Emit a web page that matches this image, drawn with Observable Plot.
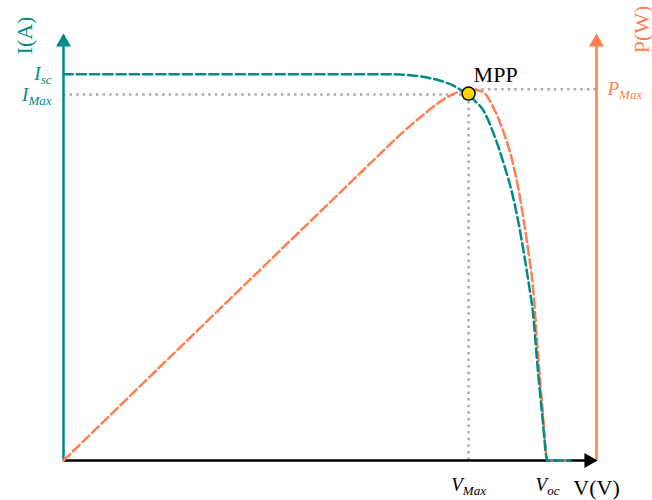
<!DOCTYPE html>
<html><head><meta charset="utf-8">
<script src="https://cdn.jsdelivr.net/npm/d3@7"></script>
<script src="https://cdn.jsdelivr.net/npm/@observablehq/plot@0.6"></script>
<style>body{margin:0;background:#fff}#chart{position:absolute;left:0;top:0}</style>
</head><body><div id="chart"></div>
<script>
// Normalised I-V and P-V curves
const voltage = [0, 0.257, 0.445, 0.595, 0.632, 0.670, 0.707, 0.732, 0.750, 0.760, 0.773, 0.786, 0.807, 0.826, 0.842, 0.854, 0.864, 0.873, 0.881, 0.889, 0.898, 0.908, 0.951];
const current = [1.00, 1.00, 1.00, 1.00, 0.999, 0.994, 0.983, 0.970, 0.955, 0.947, 0.929, 0.910, 0.846, 0.768, 0.690, 0.613, 0.535, 0.457, 0.380, 0.250, 0.121, 0, 0];
const power   = [0, 0.344, 0.595, 0.795, 0.844, 0.889, 0.929, 0.949, 0.958, 0.961, 0.959, 0.955, 0.912, 0.848, 0.776, 0.699, 0.617, 0.533, 0.447, 0.297, 0.145, 0, 0];
const vMax = 0.760, iMax = 0.947, pMax = 0.961, vOc = 0.908, iSc = 1.0;
const xEnd = 1.0, yEnd = 1.1;
const leftLabels = [{text: "I_sc", y: iSc}, {text: "I_Max", y: iMax}];
const bottomLabels = [{text: "V_Max", x: vMax}, {text: "V_oc", x: vOc}];

const TEAL = "#008b8b", CORAL = "#ff7f50", GREY = "#aaaaaa";
const SERIF = "Liberation Serif, Times New Roman, serif";
const rowsI = voltage.map((v, i) => ({v, y: current[i]}));
const rowsP = voltage.map((v, i) => ({v, y: power[i]}));
const dotted = {stroke: GREY, strokeWidth: 2.5, strokeDasharray: "2.5,4.1"};
const dashed = {strokeWidth: 2.5, strokeDasharray: "9.25,4", curve: "monotone-x"};

const svg = Plot.plot({
  width: 652, height: 500,
  marginLeft: 63, marginRight: 56, marginTop: 35, marginBottom: 40,
  x: {domain: [0, xEnd], axis: null},
  y: {domain: [0, yEnd], axis: null},
  style: {background: "#fff", overflow: "visible", fontFamily: SERIF},
  marks: [
    Plot.ruleY([iMax], {x1: 0, x2: vMax, ...dotted}),
    Plot.ruleX([vMax], {y1: 0, y2: iMax, ...dotted}),
    Plot.ruleY([pMax], {x1: vMax, x2: xEnd, ...dotted}),
    Plot.ruleX([0], {y1: 0, y2: yEnd, stroke: TEAL, strokeWidth: 2.5}),
    Plot.ruleX([xEnd], {y1: 0, y2: yEnd, stroke: CORAL, strokeWidth: 2.5}),
    Plot.ruleY([0], {x1: 0, x2: xEnd, stroke: "black", strokeWidth: 2.5}),
    Plot.dot([0], {x: 0, y: yEnd, symbol: "triangle", r: 5.6, fill: TEAL, dy: 6.7}),
    Plot.dot([0], {x: xEnd, y: yEnd, symbol: "triangle", r: 5.6, fill: CORAL, dy: 6.7}),
    Plot.dot([0], {x: xEnd, y: 0, symbol: "triangle", r: 5.6, fill: "black", rotate: 90, dx: -7.7}),
    Plot.line(rowsP, {x: "v", y: "y", stroke: CORAL, ...dashed}),
    Plot.line(rowsI, {x: "v", y: "y", stroke: TEAL, ...dashed}),
    Plot.dot([0], {x: vMax, y: iMax, r: 6.5, fill: "#ffd700", stroke: "black", strokeWidth: 1.5, dy: -1}),
    Plot.text(["MPP"], {x: vMax, y: pMax, dx: 5, dy: -14, textAnchor: "start", fontSize: 22, fill: "black"}),
    Plot.text(["I(A)"], {x: 0, y: yEnd, rotate: -90, dx: -39, dy: 0, fontSize: 22, fill: TEAL}),
    Plot.text(["P(W)"], {x: xEnd, y: yEnd, rotate: -90, dx: 45, dy: -6, fontSize: 22, fill: CORAL}),
    Plot.text(["V(V)"], {x: xEnd, y: 0, dy: 27, fontSize: 22, fill: "black"}),
    Plot.text(leftLabels, {x: 0, y: "y", text: "text", dx: -12, textAnchor: "end", fontSize: 19, fontStyle: "italic", fill: TEAL}),
    Plot.text(["P_Max"], {x: xEnd, y: pMax, dx: 11, textAnchor: "start", fontSize: 19, fontStyle: "italic", fill: CORAL}),
    Plot.text(bottomLabels, {x: "x", y: 0, text: "text", dy: 24, fontSize: 19, fontStyle: "italic", fill: "black"})
  ]
});

d3.select(svg).selectAll("text").each(function() {
  const t = this.textContent;
  if (t.includes("_")) {
    const [main, sub] = t.split("_");
    const el = d3.select(this);
    el.text(null);
    el.append("tspan").text(main);
    el.append("tspan").attr("dy", 4).attr("font-size", 13).text(sub);
  }
});
document.getElementById("chart").appendChild(svg);
</script>
</body></html>
